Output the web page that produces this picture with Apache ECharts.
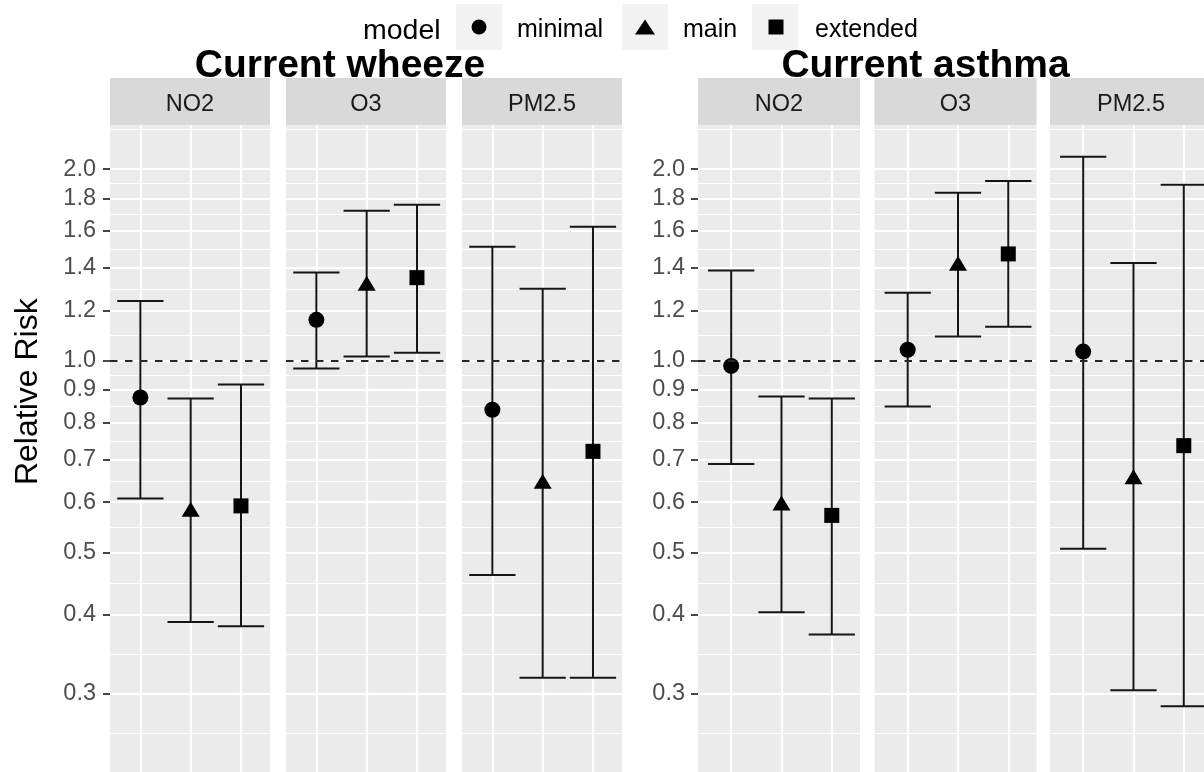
<!DOCTYPE html>
<html><head><meta charset="utf-8">
<script src="https://cdn.jsdelivr.net/npm/echarts@6/dist/echarts.min.js"></script>
<style>html,body{margin:0;padding:0;background:#fff}#c{width:1204px;height:772px}</style>
</head><body><div id="c"></div>
<script>
// ---------- data ----------
const outcomes = ['Current wheeze', 'Current asthma'];
const pollutants = ['NO2', 'O3', 'PM2.5'];
const models = ['minimal', 'main', 'extended'];
const yTicks = [0.3, 0.4, 0.5, 0.6, 0.7, 0.8, 0.9, 1.0, 1.2, 1.4, 1.6, 1.8, 2.0];
const refValue = 1.0;

// rows: NO2, O3, PM2.5 ; columns: minimal, main, extended
const wheezeEstimate = [[0.876, 0.585, 0.592], [1.160, 1.324, 1.351], [0.838, 0.647, 0.721]];
const wheezeLower    = [[0.608, 0.389, 0.383], [0.973, 1.016, 1.030], [0.461, 0.318, 0.318]];
const wheezeUpper    = [[1.242, 0.873, 0.918], [1.376, 1.721, 1.759], [1.511, 1.298, 1.624]];

const asthmaEstimate = [[0.982, 0.598, 0.572], [1.041, 1.423, 1.472], [1.034, 0.658, 0.736]];
const asthmaLower    = [[0.689, 0.403, 0.372], [0.848, 1.092, 1.131], [0.507, 0.304, 0.287]];
const asthmaUpper    = [[1.386, 0.879, 0.873], [1.279, 1.837, 1.916], [2.092, 1.424, 1.890]];

// ---------- layout / style ----------
const FONT = '"Liberation Sans", Arial, sans-serif';
const estimates = [wheezeEstimate, asthmaEstimate];
const lowers = [wheezeLower, asthmaLower];
const uppers = [wheezeUpper, asthmaUpper];
const panelLeft = [[110, 286, 462], [698, 874.5, 1050]];
const panelWidth = [160, 162];
const xRange = [[0.396, 3.577], [0.34, 3.561]];
const GRID_TOP = 125, GRID_H = 647;
const yMin = 0.2262, yMax = 2.346;
const symbols = ['circle', 'triangle', 'rect'];
const symbolSizes = [16, [18, 15], 15];
const CAP = 0.92;

// minor breaks: midpoints (log space) between major breaks, extended one step
const ext = [yTicks[0] * yTicks[0] / yTicks[1]].concat(yTicks, [yTicks[yTicks.length - 1] * yTicks[1] / yTicks[0]]);
const minorTicks = [];
for (let i = 0; i < ext.length - 1; i++) minorTicks.push(Math.sqrt(ext[i] * ext[i + 1]));

function errorBarItem(params, api) {
  const x = api.value(0), lo = api.value(1), hi = api.value(2);
  const top = api.coord([x, hi]), bot = api.coord([x, lo]);
  const a = api.coord([x - CAP / 2, hi]), b = api.coord([x + CAP / 2, hi]);
  const c = api.coord([x - CAP / 2, lo]), d = api.coord([x + CAP / 2, lo]);
  const st = { stroke: '#151515', lineWidth: 2, fill: null };
  return { type: 'group', children: [
    { type: 'line', shape: { x1: top[0], y1: top[1], x2: bot[0], y2: bot[1] }, style: st },
    { type: 'line', shape: { x1: a[0], y1: a[1], x2: b[0], y2: b[1] }, style: st },
    { type: 'line', shape: { x1: c[0], y1: c[1], x2: d[0], y2: d[1] }, style: st }
  ]};
}

const grids = [], xAxes = [], yAxes = [], series = [], graphics = [];
let gi = 0;
outcomes.forEach((outcome, o) => {
  pollutants.forEach((pol, p) => {
    const left = panelLeft[o][p], w = panelWidth[o];
    grids.push({ left: left, top: GRID_TOP, width: w, height: GRID_H, show: true,
      backgroundColor: '#EBEBEB', borderWidth: 0, containLabel: false, outerBoundsMode: 'none' });
    xAxes.push({ type: 'value', gridIndex: gi, min: xRange[o][0], max: xRange[o][1],
      axisLine: { show: false }, axisLabel: { show: false },
      axisTick: { show: false, customValues: [1, 2, 3] },
      splitLine: { show: true, lineStyle: { color: '#FFFFFF', width: 2.2 } } });
    const showLab = p === 0;
    yAxes.push({ type: 'log', logBase: 10, gridIndex: gi, min: yMin, max: yMax, position: 'left',
      axisLine: { show: false },
      axisTick: { show: showLab, customValues: yTicks, length: 7, lineStyle: { color: '#333333', width: 1.8 } },
      axisLabel: { show: showLab, customValues: yTicks, formatter: v => Number(v).toFixed(1),
        margin: o === 0 ? 14 : 13, fontSize: 23.5, color: '#4D4D4D', fontFamily: FONT },
      splitLine: { show: true, lineStyle: { color: '#FFFFFF', width: 2.2 } } });
    yAxes.push({ type: 'log', logBase: 10, gridIndex: gi, min: yMin, max: yMax, position: 'right',
      axisLine: { show: false }, axisLabel: { show: false },
      axisTick: { show: false, customValues: minorTicks },
      splitLine: { show: true, lineStyle: { color: '#FFFFFF', width: 1.1 } } });

    series.push({ type: 'custom', xAxisIndex: gi, yAxisIndex: 2 * gi, z: 3, silent: true,
      renderItem: errorBarItem, encode: { x: 0, y: [1, 2] },
      data: models.map((m, k) => [k + 1, lowers[o][p][k], uppers[o][p][k]]) });
    models.forEach((m, k) => {
      const s = { type: 'scatter', name: m, xAxisIndex: gi, yAxisIndex: 2 * gi, z: 4, silent: true,
        symbol: symbols[k], symbolSize: symbolSizes[k], itemStyle: { color: '#000000', opacity: 1 },
        data: [[k + 1, estimates[o][p][k]]] };
      if (k === 0) {
        s.markLine = { silent: true, symbol: ['none', 'none'], label: { show: false },
          lineStyle: { color: '#262626', width: 2, type: [7.5, 7.5] },
          emphasis: { disabled: true }, data: [{ yAxis: refValue }] };
      }
      series.push(s);
    });

    graphics.push({ type: 'rect', shape: { x: left, y: 78, width: w, height: 47 },
      style: { fill: '#D9D9D9' }, silent: true });
    graphics.push({ type: 'text', x: left + w / 2, y: 105, silent: true,
      style: { text: pol, fill: '#1A1A1A', fontSize: 23.5, fontFamily: FONT, align: 'center', verticalAlign: 'middle' } });
    gi++;
  });
});

graphics.push({ type: 'text', x: 28.5, y: 391.7, rotation: Math.PI / 2, silent: true,
  style: { text: 'Relative Risk', fill: '#000', fontSize: 32, fontFamily: FONT, align: 'center', verticalAlign: 'middle' } });
// legend key backgrounds
[456, 622, 752].forEach(x => graphics.push({ type: 'rect', z: 0, silent: true,
  shape: { x: x, y: 4, width: 46, height: 46 }, style: { fill: '#F2F2F2' } }));
// legend labels
const legendTextX = [517, 683, 815];
models.forEach((m, k) => graphics.push({ type: 'text', x: legendTextX[k], y: 30, silent: true, z: 10,
  style: { text: m, fill: '#000', fontSize: 25, fontFamily: FONT, align: 'left', verticalAlign: 'middle' } }));

const legendLeft = [471.5, 635, 768.5];
const legendIcon = [[15, 15], [20, 15], [15, 15]];
const legends = models.map((m, k) => ({
  data: [m], left: legendLeft[k], top: 27 - legendIcon[k][1] / 2, padding: 0, selectedMode: false,
  itemWidth: legendIcon[k][0], itemHeight: legendIcon[k][1], symbolKeepAspect: false, z: 10,
  formatter: () => '', textStyle: { fontSize: 1 }
}));

const chart = echarts.init(document.getElementById('c'), null, { renderer: 'canvas' });
chart.setOption({
  animation: false,
  backgroundColor: '#FFFFFF',
  title: [
    { text: outcomes[0], left: 340, top: 46.5, textAlign: 'center', padding: 0,
      textStyle: { fontSize: 39, fontWeight: 'bold', color: '#000', fontFamily: FONT } },
    { text: outcomes[1], left: 925.5, top: 46.5, textAlign: 'center', padding: 0,
      textStyle: { fontSize: 39, fontWeight: 'bold', color: '#000', fontFamily: FONT } },
    { text: 'model', left: 363, top: 17, padding: 0,
      textStyle: { fontSize: 28.5, fontWeight: 'normal', color: '#000', fontFamily: FONT } }
  ],
  legend: legends,
  grid: grids, xAxis: xAxes, yAxis: yAxes, series: series,
  graphic: graphics
});
</script></body></html>
